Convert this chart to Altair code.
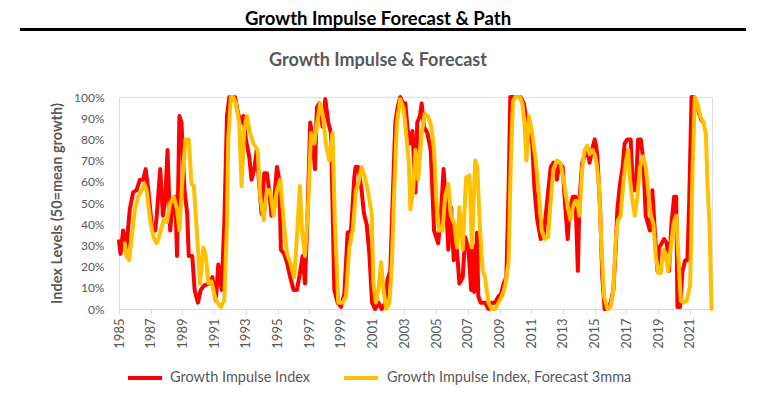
import altair as alt
import pandas as pd

FONT = "Lato"
GREY = "#595959"

red_years = [1985.00, 1985.10, 1985.26, 1985.47, 1985.68, 1985.89, 1986.10, 1986.32, 1986.53, 1986.68,
             1986.85, 1987.06, 1987.28, 1987.38, 1987.60, 1987.77, 1987.91, 1988.06, 1988.23, 1988.40,
             1988.55, 1988.66, 1988.81, 1988.94, 1989.13, 1989.30, 1989.40, 1989.62, 1989.77, 1989.98,
             1990.15, 1990.36, 1990.68, 1990.89, 1991.11, 1991.26, 1991.47, 1991.64, 1991.81, 1991.96,
             1992.17, 1992.31, 1992.52, 1992.68, 1992.85, 1993.00, 1993.21, 1993.36, 1993.53, 1993.69,
             1993.84, 1993.99, 1994.16, 1994.33, 1994.47, 1994.62, 1994.79, 1994.96, 1995.11, 1995.21,
             1995.42, 1995.59, 1995.80, 1996.01, 1996.22, 1996.37, 1996.58, 1996.73, 1996.89, 1997.06,
             1997.21, 1997.36, 1997.48, 1997.63, 1997.84, 1998.01, 1998.20, 1998.37, 1998.58, 1998.79,
             1999.00, 1999.21, 1999.42, 1999.63, 1999.84, 1999.92, 2000.09, 2000.30, 2000.45, 2000.62,
             2000.79, 2000.96, 2001.15, 2001.36, 2001.57, 2001.79, 2001.94, 2002.11, 2002.28, 2002.43,
             2002.57, 2002.74, 2002.91, 2003.06, 2003.21, 2003.34, 2003.51, 2003.70, 2003.81, 2003.98,
             2004.09, 2004.23, 2004.45, 2004.66, 2004.87, 2005.13, 2005.30, 2005.47, 2005.62, 2005.77,
             2005.94, 2006.11, 2006.26, 2006.47, 2006.68, 2006.83, 2007.04, 2007.21, 2007.30, 2007.40,
             2007.53, 2007.58, 2007.66, 2007.81, 2008.09, 2008.30, 2008.51, 2008.72, 2008.94, 2009.09,
             2009.26, 2009.43, 2009.57, 2009.68, 2009.89, 2010.11, 2010.32, 2010.53, 2010.70, 2010.85,
             2011.06, 2011.21, 2011.38, 2011.60, 2011.77, 2011.91, 2012.06, 2012.23, 2012.40, 2012.62,
             2012.77, 2012.98, 2013.13, 2013.30, 2013.40, 2013.62, 2013.79, 2013.94, 2014.04, 2014.21,
             2014.36, 2014.53, 2014.68, 2014.83, 2015.00, 2015.11, 2015.17, 2015.34, 2015.48, 2015.63,
             2015.84, 2016.01, 2016.18, 2016.33, 2016.43, 2016.60, 2016.75, 2016.89, 2017.06, 2017.27,
             2017.42, 2017.59, 2017.74, 2017.91, 2018.07, 2018.22, 2018.37, 2018.49, 2018.64, 2018.79,
             2018.96, 2019.06, 2019.23, 2019.38, 2019.55, 2019.69, 2019.84, 2020.01, 2020.14, 2020.22,
             2020.39, 2020.54, 2020.71, 2020.85, 2020.96, 2021.11, 2021.27, 2021.44, 2021.59, 2021.74,
             2021.85]
red_vals = [32, 26, 37, 29, 47, 55, 56, 61, 61, 66,
            56, 40, 37, 44, 66, 44, 51, 75, 37, 51,
            53, 25, 91, 88, 56, 45, 25, 25, 9, 3,
            9, 11, 12, 15, 4, 21, 9, 40, 91, 100,
            100, 100, 92, 88, 91, 80, 72, 61, 66, 75,
            59, 45, 64, 64, 56, 44, 51, 67, 61, 28,
            26, 22, 15, 9, 9, 15, 25, 12, 44, 88,
            80, 66, 95, 97, 86, 99, 88, 83, 9, 3,
            1, 7, 36, 37, 62, 67, 67, 56, 45, 40,
            26, 3, 0, 3, 0, 3, 14, 18, 56, 88,
            95, 100, 97, 97, 84, 78, 84, 55, 88, 91,
            97, 86, 83, 75, 37, 31, 44, 66, 51, 28,
            48, 23, 33, 12, 15, 34, 28, 9, 30, 8,
            25, 36, 6, 3, 3, 0, 3, 3, 6, 7,
            12, 15, 56, 100, 100, 100, 100, 97, 89, 84,
            78, 56, 42, 33, 34, 44, 55, 67, 69, 61,
            69, 67, 50, 33, 45, 53, 53, 18, 51, 69,
            72, 76, 69, 75, 80, 76, 72, 48, 15, 0,
            0, 3, 9, 29, 47, 59, 66, 78, 80, 80,
            56, 56, 80, 80, 70, 44, 40, 37, 56, 37,
            18, 29, 31, 33, 31, 18, 40, 53, 53, 1,
            1, 18, 23, 23, 50, 100, 100, 97, 92, 89,
            88]

fc_years = [1985.36, 1985.47, 1985.64, 1985.79, 1986.00, 1986.21, 1986.43, 1986.60, 1986.74, 1986.96,
            1987.17, 1987.38, 1987.60, 1987.81, 1988.02, 1988.23, 1988.45, 1988.66, 1988.81, 1988.98,
            1989.19, 1989.40, 1989.57, 1989.72, 1989.94, 1990.11, 1990.32, 1990.47, 1990.64, 1990.83,
            1991.04, 1991.21, 1991.43, 1991.64, 1991.81, 1991.89, 1992.06, 1992.20, 1992.37, 1992.58,
            1992.73, 1992.89, 1993.06, 1993.27, 1993.48, 1993.74, 1993.91, 1994.12, 1994.33, 1994.54,
            1994.75, 1994.96, 1995.17, 1995.38, 1995.59, 1995.80, 1996.05, 1996.22, 1996.41, 1996.54,
            1996.73, 1996.94, 1997.11, 1997.32, 1997.53, 1997.69, 1997.84, 1998.05, 1998.26, 1998.47,
            1998.62, 1998.83, 1999.11, 1999.32, 1999.53, 1999.74, 1999.95, 2000.09, 2000.30, 2000.51,
            2000.72, 2000.94, 2001.04, 2001.21, 2001.36, 2001.53, 2001.68, 2001.85, 2002.06, 2002.21,
            2002.36, 2002.53, 2002.74, 2002.96, 2003.13, 2003.28, 2003.38, 2003.55, 2003.70, 2003.87,
            2004.09, 2004.28, 2004.49, 2004.70, 2004.87, 2005.04, 2005.19, 2005.40, 2005.57, 2005.77,
            2005.94, 2006.15, 2006.32, 2006.47, 2006.68, 2006.89, 2007.11, 2007.26, 2007.47, 2007.60,
            2007.77, 2007.94, 2008.09, 2008.30, 2008.51, 2008.72, 2008.94, 2009.15, 2009.36, 2009.57,
            2009.72, 2009.85, 2010.00, 2010.28, 2010.43, 2010.57, 2010.70, 2010.85, 2011.06, 2011.28,
            2011.49, 2011.66, 2011.85, 2012.06, 2012.23, 2012.40, 2012.62, 2012.83, 2013.04, 2013.30,
            2013.47, 2013.62, 2013.77, 2013.89, 2014.04, 2014.21, 2014.36, 2014.53, 2014.68, 2014.83,
            2015.00, 2015.11, 2015.27, 2015.42, 2015.59, 2015.80, 2016.01, 2016.18, 2016.33, 2016.47,
            2016.64, 2016.79, 2016.96, 2017.11, 2017.23, 2017.38, 2017.53, 2017.69, 2017.86, 2018.05,
            2018.22, 2018.37, 2018.54, 2018.71, 2018.85, 2019.02, 2019.17, 2019.34, 2019.48, 2019.63,
            2019.80, 2019.97, 2020.14, 2020.28, 2020.43, 2020.60, 2020.81, 2021.02, 2021.17, 2021.32,
            2021.48, 2021.65, 2021.86, 2022.01, 2022.12, 2022.24, 2022.37]
fc_vals = [31, 25, 23, 33, 47, 53, 56, 59, 56, 42,
           34, 31, 36, 42, 41, 50, 53, 47, 37, 59,
           80, 80, 59, 58, 33, 12, 29, 25, 12, 13,
           6, 3, 1, 4, 40, 80, 100, 100, 97, 88,
           58, 84, 91, 83, 78, 75, 53, 42, 56, 56,
           44, 56, 61, 42, 26, 22, 15, 34, 58, 37,
           25, 50, 83, 78, 89, 97, 92, 78, 70, 83,
           40, 3, 3, 6, 29, 37, 56, 59, 67, 62,
           55, 45, 12, 3, 9, 22, 9, 0, 3, 22,
           56, 88, 99, 94, 81, 69, 47, 56, 75, 61,
           83, 92, 91, 86, 75, 48, 37, 37, 53, 59,
           44, 40, 29, 48, 28, 62, 63, 29, 70, 67,
           37, 18, 15, 3, 0, 0, 3, 6, 11, 22,
           72, 98, 100, 100, 97, 88, 70, 91, 83, 70,
           53, 37, 33, 34, 51, 66, 70, 69, 61, 48,
           42, 48, 51, 51, 44, 66, 75, 77, 73, 75,
           73, 69, 59, 31, 6, 0, 1, 9, 33, 42,
           44, 58, 69, 75, 61, 51, 44, 53, 67, 72,
           67, 56, 44, 40, 25, 17, 17, 28, 26, 18,
           29, 40, 44, 25, 4, 3, 4, 11, 64, 100,
           97, 91, 88, 83, 58, 40, 0]

x_ticks = list(range(1985, 2022, 2))
y_ticks = list(range(0, 101, 10))

main_title = "Growth Impulse Forecast & Path"
sub_title = "Growth Impulse & Forecast"
y_title = "Index Levels (50=mean growth)"
legend_labels = ["Growth Impulse Index", "Growth Impulse Index, Forecast 3mma"]
colors = ["#FF0000", "#FFC000"]

W, H = 593, 212

red_df = pd.DataFrame({"year": red_years, "value": red_vals})
fc_df = pd.DataFrame({"year": fc_years, "value": fc_vals})

x_scale = alt.Scale(domain=[1985, 2022.4], nice=False, zero=False)
y_scale = alt.Scale(domain=[0, 100], nice=False)

x_axis = alt.Axis(values=x_ticks, format="d", labelAngle=270, grid=False,
                  domainColor="#d9d9d9", tickColor="#d9d9d9", tickSize=5,
                  labelColor=GREY, labelFont=FONT, labelFontSize=13, labelPadding=4,
                  labelOverlap=False, labelFlush=False, title=None)
y_axis = alt.Axis(values=y_ticks, labelExpr="datum.value + '%'", grid=False,
                  domain=False, ticks=False, labelColor=GREY, labelFont=FONT,
                  labelFontSize=12, labelPadding=15, labelOverlap=False,
                  title=y_title, titleFont=FONT,
                  titleFontSize=14.5, titleFontWeight="bold", titleColor=GREY, titlePadding=9)

red_line = alt.Chart(red_df).mark_line(
    color=colors[0], strokeWidth=4, strokeJoin="round", strokeCap="round"
).encode(
    x=alt.X("year:Q", scale=x_scale, axis=x_axis),
    y=alt.Y("value:Q", scale=y_scale, axis=y_axis),
)
fc_line = alt.Chart(fc_df).mark_line(
    color=colors[1], strokeWidth=4, strokeJoin="round", strokeCap="round"
).encode(
    x=alt.X("year:Q", scale=x_scale, axis=x_axis),
    y=alt.Y("value:Q", scale=y_scale, axis=y_axis),
)

one = alt.Data(values=[{}])

title_text = alt.Chart(one).mark_text(
    font=FONT, fontSize=18.5, fontWeight="bold", color="#000000", baseline="middle", align="center"
).encode(x=alt.value(259), y=alt.value(-78.5), text=alt.value(main_title))
title_rule = alt.Chart(one).mark_rule(color="#000000", strokeWidth=3).encode(
    x=alt.value(-99), x2=alt.value(627), y=alt.value(-67.5))
sub_text = alt.Chart(one).mark_text(
    font=FONT, fontSize=18, fontWeight="bold", color=GREY, baseline="middle", align="center"
).encode(x=alt.value(259), y=alt.value(-36), text=alt.value(sub_title))

leg_y = 281
leg_red_rule = alt.Chart(one).mark_rule(color=colors[0], strokeWidth=4).encode(
    x=alt.value(9), x2=alt.value(43), y=alt.value(leg_y))
leg_red_text = alt.Chart(one).mark_text(
    font=FONT, fontSize=14.5, color=GREY, baseline="middle", align="left"
).encode(x=alt.value(51), y=alt.value(leg_y), text=alt.value(legend_labels[0]))
leg_fc_rule = alt.Chart(one).mark_rule(color=colors[1], strokeWidth=4).encode(
    x=alt.value(225), x2=alt.value(259), y=alt.value(leg_y))
leg_fc_text = alt.Chart(one).mark_text(
    font=FONT, fontSize=14.5, color=GREY, baseline="middle", align="left"
).encode(x=alt.value(268), y=alt.value(leg_y), text=alt.value(legend_labels[1]))

chart = alt.layer(
    red_line, fc_line, title_text, title_rule, sub_text,
    leg_red_rule, leg_red_text, leg_fc_rule, leg_fc_text
).properties(
    width=W, height=H,
    autosize=alt.AutoSizeParams(type="none"),
    padding={"left": 111, "top": 89, "right": 40, "bottom": 80},
).configure_view(stroke=None).configure_axis(labelOverlap=False).configure(background="white")

chart.save("out.html", embed_options={"renderer": "svg", "actions": False})
